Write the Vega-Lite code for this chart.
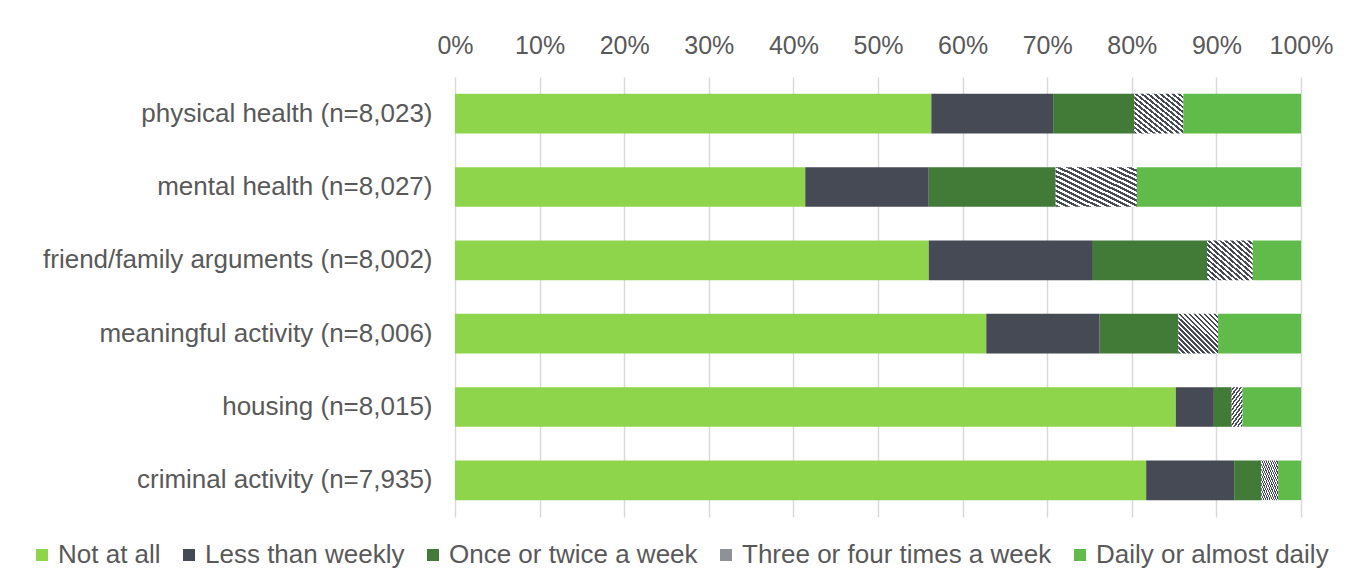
{
  "$schema": "https://vega.github.io/schema/vega-lite/v6.json",
  "autosize": {"type": "none"},
  "width": 846,
  "height": 440,
  "padding": {"left": 455, "top": 77, "right": 52, "bottom": 58},
  "background": "white",
  "config": {
    "font": "Liberation Sans",
    "view": {"stroke": null},
    "axis": {"labelFont": "Liberation Sans", "labelFontSize": 26, "labelColor": "#595959", "labelLimit": 0},
    "legend": {"labelFont": "Liberation Sans", "labelFontSize": 26, "labelColor": "#595959", "labelLimit": 0}
  },
  "data": {
    "values": [
      {"item": "physical health (n=8,023)", "freq": "Not at all", "pct": 56.3},
      {"item": "physical health (n=8,023)", "freq": "Less than weekly", "pct": 14.4},
      {"item": "physical health (n=8,023)", "freq": "Once or twice a week", "pct": 9.6},
      {"item": "physical health (n=8,023)", "freq": "Three or four times a week", "pct": 5.8},
      {"item": "physical health (n=8,023)", "freq": "Daily or almost daily", "pct": 13.9},
      {"item": "mental health (n=8,027)", "freq": "Not at all", "pct": 41.4},
      {"item": "mental health (n=8,027)", "freq": "Less than weekly", "pct": 14.6},
      {"item": "mental health (n=8,027)", "freq": "Once or twice a week", "pct": 15.0},
      {"item": "mental health (n=8,027)", "freq": "Three or four times a week", "pct": 9.6},
      {"item": "mental health (n=8,027)", "freq": "Daily or almost daily", "pct": 19.4},
      {"item": "friend/family arguments (n=8,002)", "freq": "Not at all", "pct": 56.0},
      {"item": "friend/family arguments (n=8,002)", "freq": "Less than weekly", "pct": 19.4},
      {"item": "friend/family arguments (n=8,002)", "freq": "Once or twice a week", "pct": 13.5},
      {"item": "friend/family arguments (n=8,002)", "freq": "Three or four times a week", "pct": 5.4},
      {"item": "friend/family arguments (n=8,002)", "freq": "Daily or almost daily", "pct": 5.7},
      {"item": "meaningful activity (n=8,006)", "freq": "Not at all", "pct": 62.8},
      {"item": "meaningful activity (n=8,006)", "freq": "Less than weekly", "pct": 13.4},
      {"item": "meaningful activity (n=8,006)", "freq": "Once or twice a week", "pct": 9.3},
      {"item": "meaningful activity (n=8,006)", "freq": "Three or four times a week", "pct": 4.7},
      {"item": "meaningful activity (n=8,006)", "freq": "Daily or almost daily", "pct": 9.8},
      {"item": "housing (n=8,015)", "freq": "Not at all", "pct": 85.2},
      {"item": "housing (n=8,015)", "freq": "Less than weekly", "pct": 4.5},
      {"item": "housing (n=8,015)", "freq": "Once or twice a week", "pct": 2.1},
      {"item": "housing (n=8,015)", "freq": "Three or four times a week", "pct": 1.3},
      {"item": "housing (n=8,015)", "freq": "Daily or almost daily", "pct": 6.9},
      {"item": "criminal activity (n=7,935)", "freq": "Not at all", "pct": 81.7},
      {"item": "criminal activity (n=7,935)", "freq": "Less than weekly", "pct": 10.4},
      {"item": "criminal activity (n=7,935)", "freq": "Once or twice a week", "pct": 3.2},
      {"item": "criminal activity (n=7,935)", "freq": "Three or four times a week", "pct": 2.0},
      {"item": "criminal activity (n=7,935)", "freq": "Daily or almost daily", "pct": 2.7}
    ]
  },
  "transform": [
    {"window": [{"op": "row_number", "as": "stack_rank"}]}
  ],
  "mark": {"type": "bar"},
  "encoding": {
    "y": {
      "field": "item",
      "type": "nominal",
      "sort": null,
      "title": null,
      "scale": {"paddingInner": 0.46, "paddingOuter": 0.23},
      "axis": {"ticks": false, "tickSize": 0, "domain": false, "labelPadding": 23, "grid": false}
    },
    "x": {
      "field": "pct",
      "type": "quantitative",
      "stack": "normalize",
      "title": null,
      "scale": {"domain": [0, 1], "nice": false},
      "axis": {
        "orient": "top",
        "values": [0, 0.1, 0.2, 0.3, 0.4, 0.5, 0.6, 0.7, 0.8, 0.9, 1],
        "format": ".0%",
        "domain": false,
        "ticks": false,
        "tickSize": 0,
        "labelFontSize": 25,
        "labelFlush": false,
        "labelPadding": 19,
        "grid": true,
        "gridColor": "#d9d9d9",
        "gridWidth": 1.5
      }
    },
    "order": {"field": "stack_rank", "type": "quantitative", "sort": "ascending"},
    "color": {
      "condition": {
        "test": "datum.freq === 'Three or four times a week'",
        "value": {
          "gradient": "linear",
          "x1": 0, "y1": 1, "x2": 1, "y2": 0,
          "stops": [
            {"offset": 0, "color": "#464a55"}, {"offset": 0.03125, "color": "#464a55"}, {"offset": 0.03125, "color": "#ffffff"}, {"offset": 0.0625, "color": "#ffffff"},
            {"offset": 0.0625, "color": "#464a55"}, {"offset": 0.09375, "color": "#464a55"}, {"offset": 0.09375, "color": "#ffffff"}, {"offset": 0.125, "color": "#ffffff"},
            {"offset": 0.125, "color": "#464a55"}, {"offset": 0.15625, "color": "#464a55"}, {"offset": 0.15625, "color": "#ffffff"}, {"offset": 0.1875, "color": "#ffffff"},
            {"offset": 0.1875, "color": "#464a55"}, {"offset": 0.21875, "color": "#464a55"}, {"offset": 0.21875, "color": "#ffffff"}, {"offset": 0.25, "color": "#ffffff"},
            {"offset": 0.25, "color": "#464a55"}, {"offset": 0.28125, "color": "#464a55"}, {"offset": 0.28125, "color": "#ffffff"}, {"offset": 0.3125, "color": "#ffffff"},
            {"offset": 0.3125, "color": "#464a55"}, {"offset": 0.34375, "color": "#464a55"}, {"offset": 0.34375, "color": "#ffffff"}, {"offset": 0.375, "color": "#ffffff"},
            {"offset": 0.375, "color": "#464a55"}, {"offset": 0.40625, "color": "#464a55"}, {"offset": 0.40625, "color": "#ffffff"}, {"offset": 0.4375, "color": "#ffffff"},
            {"offset": 0.4375, "color": "#464a55"}, {"offset": 0.46875, "color": "#464a55"}, {"offset": 0.46875, "color": "#ffffff"}, {"offset": 0.5, "color": "#ffffff"},
            {"offset": 0.5, "color": "#464a55"}, {"offset": 0.53125, "color": "#464a55"}, {"offset": 0.53125, "color": "#ffffff"}, {"offset": 0.5625, "color": "#ffffff"},
            {"offset": 0.5625, "color": "#464a55"}, {"offset": 0.59375, "color": "#464a55"}, {"offset": 0.59375, "color": "#ffffff"}, {"offset": 0.625, "color": "#ffffff"},
            {"offset": 0.625, "color": "#464a55"}, {"offset": 0.65625, "color": "#464a55"}, {"offset": 0.65625, "color": "#ffffff"}, {"offset": 0.6875, "color": "#ffffff"},
            {"offset": 0.6875, "color": "#464a55"}, {"offset": 0.71875, "color": "#464a55"}, {"offset": 0.71875, "color": "#ffffff"}, {"offset": 0.75, "color": "#ffffff"},
            {"offset": 0.75, "color": "#464a55"}, {"offset": 0.78125, "color": "#464a55"}, {"offset": 0.78125, "color": "#ffffff"}, {"offset": 0.8125, "color": "#ffffff"},
            {"offset": 0.8125, "color": "#464a55"}, {"offset": 0.84375, "color": "#464a55"}, {"offset": 0.84375, "color": "#ffffff"}, {"offset": 0.875, "color": "#ffffff"},
            {"offset": 0.875, "color": "#464a55"}, {"offset": 0.90625, "color": "#464a55"}, {"offset": 0.90625, "color": "#ffffff"}, {"offset": 0.9375, "color": "#ffffff"},
            {"offset": 0.9375, "color": "#464a55"}, {"offset": 0.96875, "color": "#464a55"}, {"offset": 0.96875, "color": "#ffffff"}, {"offset": 1, "color": "#ffffff"}
          ]
        }
      },
      "field": "freq",
      "type": "nominal",
      "sort": ["Not at all", "Less than weekly", "Once or twice a week", "Three or four times a week", "Daily or almost daily"],
      "scale": {
        "domain": ["Not at all", "Less than weekly", "Once or twice a week", "Three or four times a week", "Daily or almost daily"],
        "range": ["#8fd54b", "#464a55", "#427a38", "#8e9198", "#60bb4a"]
      },
      "legend": {
        "title": null,
        "orient": "none",
        "direction": "horizontal",
        "columns": 5,
        "legendX": -426,
        "legendY": 465,
        "symbolType": "square",
        "symbolSize": 144,
        "symbolStrokeWidth": 0,
        "labelOffset": 3,
        "columnPadding": 15
      }
    }
  }
}
